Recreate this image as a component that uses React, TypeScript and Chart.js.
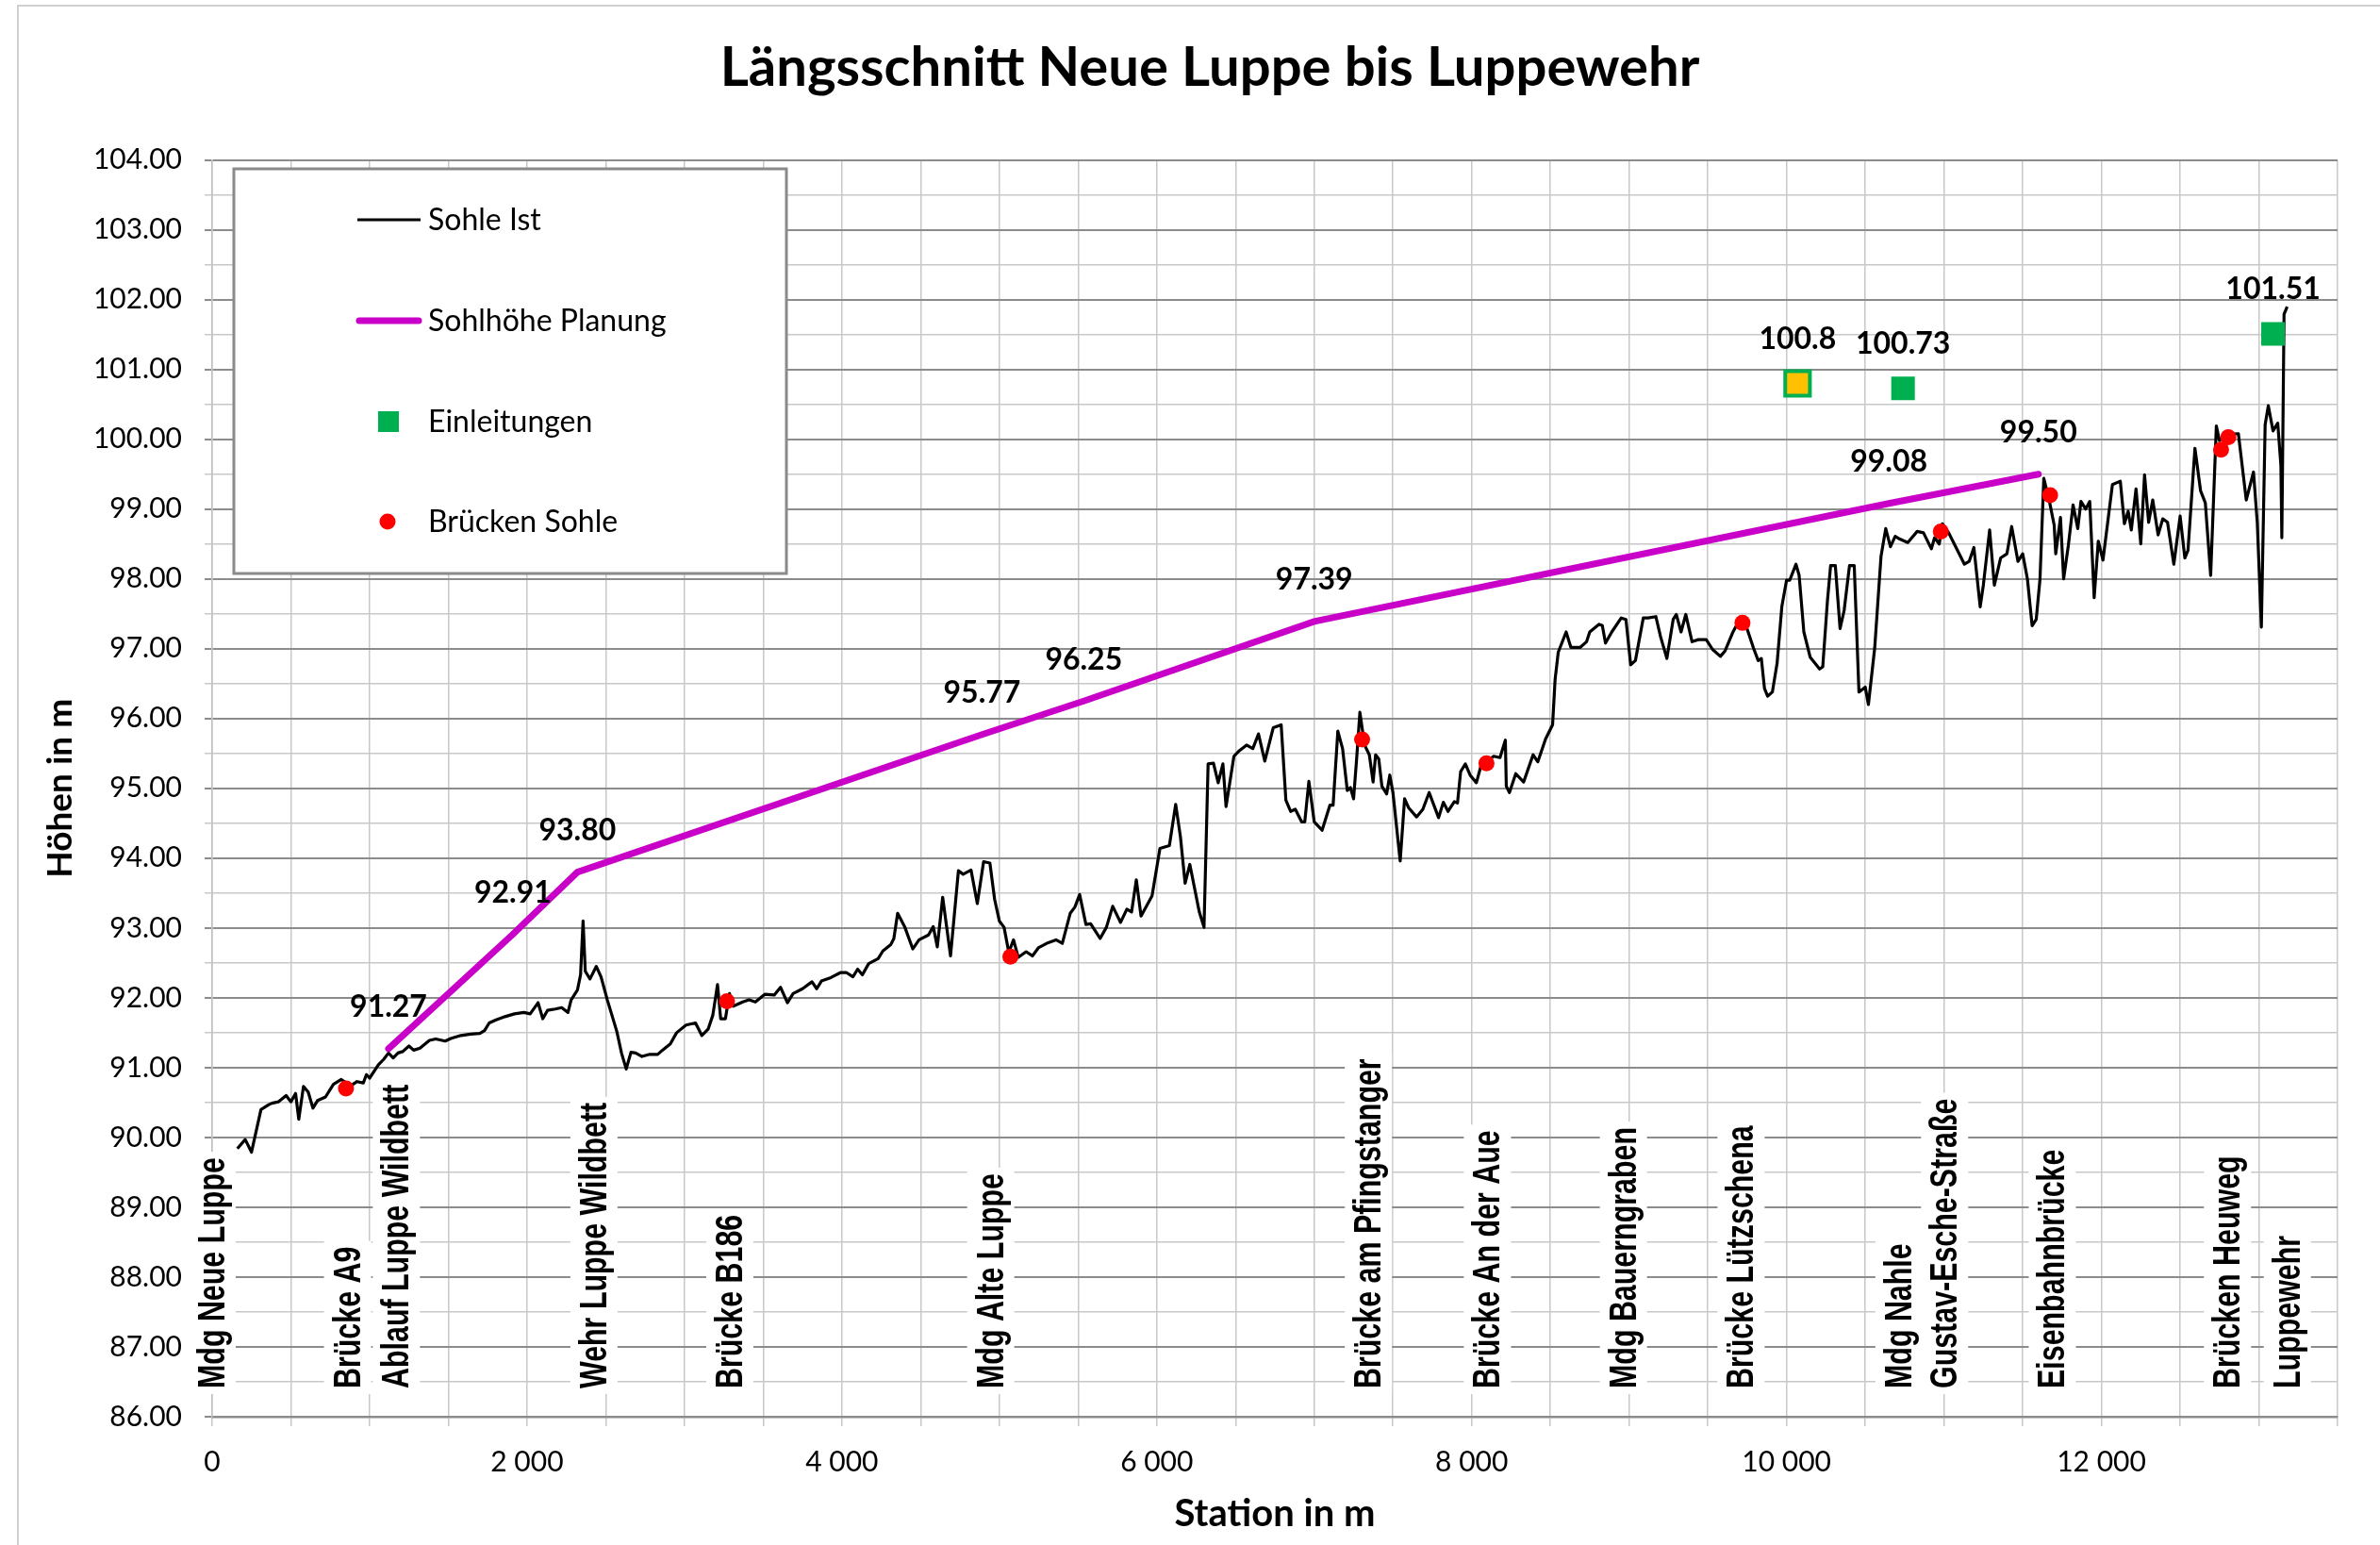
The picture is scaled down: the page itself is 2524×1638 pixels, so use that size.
import React, { useEffect, useRef } from 'react';
import { Chart, registerables } from 'chart.js';

Chart.register(...registerables);

const chartTitle = 'Längsschnitt Neue Luppe bis Luppewehr';
const xAxisTitle = 'Station in m';
const yAxisTitle = 'Höhen in m';
const seriesNames = ['Sohle Ist', 'Sohlhöhe Planung', 'Einleitungen', 'Brücken Sohle'];

const xTickLabels = ['0', '2 000', '4 000', '6 000', '8 000', '10 000', '12 000'];
const yTickLabels = ['86.00', '87.00', '88.00', '89.00', '90.00', '91.00', '92.00', '93.00', '94.00', '95.00',
  '96.00', '97.00', '98.00', '99.00', '100.00', '101.00', '102.00', '103.00', '104.00'];

const sohleStations = [
  160, 210, 250, 310, 360, 380, 420, 470, 500, 530, 550, 580, 610, 640, 670, 720, 770, 820, 880, 920, 960, 980, 1000,
  1056, 1090, 1120, 1150, 1180, 1210, 1250, 1280, 1320, 1380, 1420, 1480, 1520, 1580, 1640, 1700, 1730, 1760, 1800,
  1860, 1920, 1980, 2020, 2070, 2100, 2130, 2180, 2220, 2260, 2280, 2320, 2340, 2356, 2370, 2400, 2440, 2470,
  2510, 2570, 2600, 2630, 2660, 2690, 2730, 2780, 2830, 2860, 2910, 2950, 3010, 3070, 3110, 3150, 3180, 3210, 3230,
  3260, 3286, 3310, 3370, 3410, 3450, 3510, 3570, 3610, 3654, 3690, 3750, 3810, 3840, 3870, 3930, 3990, 4030, 4070,
  4100, 4130, 4170, 4230, 4260, 4310, 4330, 4354, 4400, 4450, 4490, 4550, 4580, 4606, 4640, 4690, 4740, 4770, 4820,
  4860, 4900,
  4940, 4970, 5000, 5030, 5060, 5090, 5120, 5170, 5210, 5250, 5310, 5360, 5400, 5450, 5480, 5510, 5550, 5580, 5640,
  5680, 5720, 5770, 5810, 5840, 5870, 5900, 5970, 6020, 6080, 6120, 6150, 6180, 6210, 6270, 6300, 6326, 6360, 6390,
  6420, 6440, 6490, 6520, 6570, 6610, 6646, 6686, 6740, 6790, 6820, 6850, 6880, 6920, 6940, 6966, 7000, 7050, 7100,
  7120, 7150, 7180, 7210, 7230, 7250, 7270, 7290, 7320, 7350, 7374,
  7390, 7410, 7430, 7460, 7480, 7500, 7546, 7574, 7600, 7650, 7690, 7730, 7760, 7790, 7820, 7850, 7890, 7910, 7930,
  7960, 7990, 8030, 8060, 8100, 8140, 8180, 8214, 8220, 8240, 8280, 8330, 8390, 8420, 8470, 8514, 8530, 8550, 8600,
  8630, 8690, 8730, 8750, 8810, 8830, 8850, 8890, 8950, 8980, 9010, 9040, 9090, 9120, 9170, 9200, 9240, 9280, 9300,
  9330, 9360, 9400, 9440, 9490, 9530, 9580, 9610, 9660, 9700, 9750, 9790, 9820, 9840,
  9860, 9880, 9910, 9940, 9970, 10000, 10020, 10060, 10080, 10110, 10150, 10210, 10230, 10260, 10280, 10310, 10340,
  10366, 10400, 10430, 10460, 10500, 10520, 10560, 10600, 10630, 10660, 10690, 10720, 10770, 10830, 10870, 10920,
  10940, 10970, 10990, 11030, 11070, 11130, 11160, 11190, 11230, 11250, 11290, 11320, 11360, 11400, 11430, 11470,
  11500, 11530, 11560, 11586, 11610, 11634, 11670, 11700, 11710, 11740, 11760, 11790, 11820, 11850, 11870, 11900,
  11926, 11954, 11980, 12010, 12040, 12070, 12120, 12146, 12170, 12190, 12220, 12250, 12274, 12300, 12326,
  12360, 12390, 12420, 12460, 12500, 12530, 12550, 12594, 12630, 12660, 12694, 12730, 12750, 12790, 12870, 12920,
  12966, 12990, 13016, 13040, 13060, 13090, 13120, 13140, 13146, 13160, 13180,
];
const sohleHeights = [
  89.84, 89.97, 89.79, 90.40, 90.47, 90.49, 90.51, 90.60, 90.51, 90.63, 90.26, 90.73, 90.65, 90.42, 90.53, 90.58,
  90.76, 90.83, 90.74, 90.80, 90.78, 90.90, 90.85,
  91.04, 91.12, 91.21, 91.14, 91.21, 91.23, 91.31, 91.25, 91.28, 91.39, 91.41, 91.38, 91.42, 91.46, 91.48, 91.49,
  91.53, 91.64, 91.68, 91.73, 91.77, 91.79, 91.77, 91.93, 91.70, 91.82, 91.84, 91.86, 91.79, 91.97, 92.11, 92.33,
  93.10, 92.38, 92.27, 92.45, 92.30,
  91.97, 91.52, 91.21, 90.98, 91.22, 91.21, 91.16, 91.19, 91.19, 91.25, 91.34, 91.50, 91.61, 91.64, 91.46, 91.55,
  91.75, 92.19, 91.70, 91.70, 92.06, 91.88, 91.94, 91.97, 91.94, 92.05, 92.04, 92.15, 91.93, 92.06, 92.13, 92.23,
  92.13, 92.24, 92.29, 92.36, 92.36, 92.30, 92.41, 92.33, 92.49, 92.56, 92.67, 92.76, 92.85, 93.21, 93.01, 92.70,
  92.83, 92.90, 93.02, 92.73, 93.44, 92.60, 93.82, 93.77, 93.83, 93.35, 93.95,
  93.93, 93.41, 93.10, 93.01, 92.65, 92.83, 92.58, 92.66, 92.60, 92.72, 92.79, 92.83, 92.78, 93.21, 93.30, 93.48,
  93.05, 93.06, 92.85, 93.01, 93.31, 93.08, 93.27, 93.23, 93.69, 93.17, 93.46, 94.14, 94.18, 94.77, 94.31, 93.64,
  93.91, 93.23, 93.01, 95.35, 95.36, 95.08, 95.35, 94.74, 95.46, 95.53, 95.62, 95.57, 95.78, 95.39, 95.87, 95.91,
  94.83, 94.67, 94.70, 94.52, 94.52, 95.10, 94.52, 94.40, 94.76, 94.76, 95.82, 95.57, 94.97, 95.01, 94.85, 95.44,
  96.09, 95.62, 95.48, 95.09,
  95.48, 95.42, 95.03, 94.92, 95.19, 94.94, 93.96, 94.85, 94.72, 94.59, 94.70, 94.94, 94.76, 94.58, 94.80, 94.67,
  94.81, 94.79, 95.24, 95.35, 95.19, 95.08, 95.33, 95.39, 95.46, 95.44, 95.69, 95.03, 94.94, 95.21, 95.09, 95.48,
  95.38, 95.71, 95.91, 96.56, 96.95, 97.24, 97.02, 97.02, 97.10, 97.24, 97.35, 97.33, 97.08, 97.24, 97.44, 97.42,
  96.77, 96.83, 97.44, 97.44, 97.46, 97.17, 96.86, 97.42, 97.49, 97.24, 97.49, 97.10, 97.13, 97.13, 96.99, 96.89,
  96.97, 97.24, 97.41, 97.28, 97.01, 96.83, 96.86,
  96.43, 96.32, 96.38, 96.79, 97.60, 97.98, 97.98, 98.21, 98.05, 97.24, 96.88, 96.71, 96.74, 97.69, 98.19, 98.19,
  97.29, 97.55, 98.19, 98.19, 96.38, 96.45, 96.20, 97.01, 98.32, 98.72, 98.46, 98.61, 98.57, 98.52, 98.68, 98.66,
  98.43, 98.59, 98.50, 98.79, 98.66, 98.48, 98.21, 98.25, 98.45, 97.60, 97.91, 98.70, 97.91, 98.30, 98.36, 98.75,
  98.25, 98.36, 98.00, 97.33, 97.42, 98.00, 99.44, 99.11, 98.77, 98.36, 98.88, 98.00, 98.48, 99.06, 98.72, 99.11,
  99.00, 99.11, 97.73, 98.54, 98.27, 98.81, 99.35, 99.40, 98.79, 98.97, 98.70, 99.29, 98.50, 99.49, 98.81, 99.13,
  98.63, 98.86, 98.81, 98.21, 98.90, 98.30, 98.41, 99.87, 99.26, 99.09, 98.05, 100.19, 99.98, 100.07, 100.08,
  99.13, 99.53, 98.81, 97.31, 100.21, 100.48, 100.12, 100.23, 99.63, 98.59, 101.79, 101.90,
];

const planStations = [1120, 1910, 2320, 4890, 5536, 7000, 10650, 11600];
const planHeights = [91.27, 92.91, 93.80, 95.77, 96.25, 97.39, 99.08, 99.50];
const planLabels = ['91.27', '92.91', '93.80', '95.77', '96.25', '97.39', '99.08', '99.50'];

const einStations = [10070, 10740, 13090];
const einHeights = [100.8, 100.73, 101.51];
const einLabels = ['100.8', '100.73', '101.51'];

const brueckeStations = [850, 3270, 5070, 7304, 8094, 9720, 10980, 11674, 12760, 12806];
const brueckeHeights = [90.70, 91.95, 92.59, 95.70, 95.36, 97.37, 98.68, 99.20, 99.85, 100.03];

const placeNames = ['Mdg Neue Luppe', 'Brücke A9', 'Ablauf Luppe Wildbett', 'Wehr Luppe Wildbett', 'Brücke B186',
  'Mdg Alte Luppe', 'Brücke am Pfingstanger', 'Brücke An der Aue', 'Mdg Bauerngraben', 'Brücke Lützschena',
  'Mdg Nahle', 'Gustav-Esche-Straße', 'Eisenbahnbrücke', 'Brücken Heuweg', 'Luppewehr'];
const placeStations = [0, 860, 1170, 2425, 3288, 4945, 7344, 8100, 8964, 9711, 10714, 11004, 11688, 12801, 13181];

const BLACK = '#000000';
const MAGENTA = '#C800C8';
const GREEN = '#00B050';
const YELLOW = '#FFC000';
const RED = '#FF0000';

const isInt = (v: number) => Math.abs(v - Math.round(v)) < 1e-6;

const framePlugin = {
  id: 'frame',
  beforeDraw(chart: any) {
    const { ctx, width, height } = chart;
    ctx.save();
    ctx.fillStyle = '#ffffff';
    ctx.fillRect(0, 0, width, height);
    ctx.strokeStyle = '#d0d0d0';
    ctx.lineWidth = 2;
    ctx.beginPath();
    ctx.moveTo(19, height);
    ctx.lineTo(19, 6);
    ctx.lineTo(width, 6);
    ctx.stroke();
    ctx.restore();
  },
};

const placeLabelPlugin = {
  id: 'placeLabels',
  beforeDatasetsDraw(chart: any) {
    const { ctx } = chart;
    const xs = chart.scales.x;
    const baseY = 1472;
    const squeeze = 0.76;
    ctx.save();
    ctx.font = 'bold 40px "Liberation Sans", Arial, sans-serif';
    ctx.textAlign = 'left';
    ctx.textBaseline = 'middle';
    placeNames.forEach((name, i) => {
      const x = xs.getPixelForValue(placeStations[i]);
      const len = ctx.measureText(name).width * squeeze;
      ctx.save();
      ctx.translate(x, baseY);
      ctx.rotate(-Math.PI / 2);
      ctx.fillStyle = '#ffffff';
      ctx.fillRect(-6, -25, len + 12, 50);
      ctx.scale(squeeze, 1);
      ctx.fillStyle = '#000000';
      ctx.fillText(name, 0, 2);
      ctx.restore();
    });
    ctx.restore();
  },
};

const valueLabelPlugin = {
  id: 'valueLabels',
  afterDatasetsDraw(chart: any) {
    const { ctx } = chart;
    ctx.save();
    ctx.font = 'bold 32px Lato, sans-serif';
    ctx.fillStyle = '#000000';
    ctx.textAlign = 'center';
    ctx.textBaseline = 'middle';
    const sets: [number, string[], number][] = [[1, planLabels, 44], [2, einLabels, 47]];
    sets.forEach(([di, labels, off]) => {
      const meta = chart.getDatasetMeta(di);
      meta.data.forEach((el: any, i: number) => {
        ctx.fillText(labels[i], el.x, el.y - off);
      });
    });
    ctx.restore();
  },
};

const legendPlugin = {
  id: 'boxLegend',
  afterDatasetsDraw(chart: any) {
    const { ctx } = chart;
    const box = { l: 248, t: 179, r: 834, b: 608 };
    const rows = [233, 340, 447, 553];
    ctx.save();
    ctx.fillStyle = '#ffffff';
    ctx.fillRect(box.l, box.t, box.r - box.l, box.b - box.t);
    ctx.strokeStyle = '#8a8a8a';
    ctx.lineWidth = 3;
    ctx.strokeRect(box.l, box.t, box.r - box.l, box.b - box.t);
    ctx.strokeStyle = BLACK;
    ctx.lineWidth = 3;
    ctx.beginPath();
    ctx.moveTo(379, rows[0]);
    ctx.lineTo(446, rows[0]);
    ctx.stroke();
    ctx.strokeStyle = MAGENTA;
    ctx.lineWidth = 7;
    ctx.lineCap = 'round';
    ctx.beginPath();
    ctx.moveTo(381, rows[1]);
    ctx.lineTo(444, rows[1]);
    ctx.stroke();
    ctx.fillStyle = GREEN;
    ctx.fillRect(401, rows[2] - 11, 22, 22);
    ctx.fillStyle = RED;
    ctx.beginPath();
    ctx.arc(411, rows[3], 8.5, 0, Math.PI * 2);
    ctx.fill();
    ctx.fillStyle = '#000000';
    ctx.font = '32px Lato, sans-serif';
    ctx.textAlign = 'left';
    ctx.textBaseline = 'middle';
    seriesNames.forEach((n, i) => ctx.fillText(n, 454, rows[i] + 1));
    ctx.restore();
  },
};

export default function App() {
  const canvasRef = useRef<HTMLCanvasElement | null>(null);

  useEffect(() => {
    document.body.style.margin = '0';
    const canvas = canvasRef.current;
    if (!canvas) return;
    const chart = new Chart(canvas, {
      type: 'scatter',
      data: {
        datasets: [
          {
            label: seriesNames[0],
            data: sohleStations.map((x, i) => ({ x, y: sohleHeights[i] })),
            showLine: true,
            borderColor: BLACK,
            borderWidth: 3.2,
            borderJoinStyle: 'round',
            pointRadius: 0,
            tension: 0,
            order: 4,
          },
          {
            label: seriesNames[1],
            data: planStations.map((x, i) => ({ x, y: planHeights[i] })),
            showLine: true,
            borderColor: MAGENTA,
            borderWidth: 7,
            borderCapStyle: 'round',
            pointRadius: 0,
            tension: 0,
            order: 3,
          },
          {
            label: seriesNames[2],
            data: einStations.map((x, i) => ({ x, y: einHeights[i] })),
            pointStyle: 'rect',
            pointRadius: [18.5, 17.7, 17.7],
            pointBackgroundColor: [YELLOW, GREEN, GREEN],
            pointBorderColor: GREEN,
            pointBorderWidth: [4, 0, 0],
            order: 2,
          },
          {
            label: seriesNames[3],
            data: brueckeStations.map((x, i) => ({ x, y: brueckeHeights[i] })),
            pointStyle: 'circle',
            pointRadius: 8.5,
            pointBackgroundColor: RED,
            pointBorderWidth: 0,
            order: 1,
          },
        ],
      } as any,
      options: {
        responsive: false,
        devicePixelRatio: 1,
        animation: false,
        events: [],
        layout: { padding: { left: 42, right: 0, top: 0, bottom: 0 } },
        plugins: {
          legend: { display: false },
          tooltip: { enabled: false },
          title: {
            display: true,
            text: chartTitle,
            color: '#000000',
            font: { family: 'Lato', size: 58, weight: 'bold' },
            padding: { top: 37, bottom: 63 },
          },
        },
        scales: {
          x: {
            type: 'linear',
            position: 'bottom',
            min: 0,
            max: 13500,
            afterFit: (s: any) => { s.height = 136; },
            ticks: {
              stepSize: 500,
              maxTicksLimit: 100,
              autoSkip: false,
              maxRotation: 0,
              minRotation: 0,
              padding: 20,
              color: '#000000',
              font: { family: 'Lato', size: 30 },
              callback: (v: any) => {
                const n = Number(v);
                return n % 2000 === 0 ? xTickLabels[n / 2000] : '';
              },
            },
            grid: { color: '#c8c8c8', lineWidth: 1.5, tickLength: 10, tickColor: '#c8c8c8' },
            border: { display: true, color: '#8c8c8c', width: 2.5 },
            title: {
              display: true,
              text: xAxisTitle,
              color: '#000000',
              font: { family: 'Lato', size: 40, weight: 'bold' },
              padding: { top: 0, bottom: 9 },
            },
          },
          y: {
            type: 'linear',
            position: 'left',
            min: 86,
            max: 104,
            afterFit: (s: any) => { s.width = 183; },
            ticks: {
              stepSize: 0.5,
              maxTicksLimit: 100,
              autoSkip: false,
              padding: 24,
              color: '#000000',
              font: { family: 'Lato', size: 30 },
              callback: (v: any) => {
                const n = Number(v);
                return isInt(n) ? yTickLabels[Math.round(n) - 86] : '';
              },
            },
            grid: {
              color: (c: any) => (c.tick && isInt(c.tick.value) ? '#8c8c8c' : '#c8c8c8'),
              lineWidth: (c: any) => (c.tick && isInt(c.tick.value) ? 2 : 1.5),
              tickLength: 8,
            },
            border: { display: true, color: '#c0c0c0', width: 1.5 },
            title: {
              display: true,
              text: yAxisTitle,
              color: '#000000',
              font: { family: 'Lato', size: 37, weight: 'bold' },
              padding: { top: 0, bottom: 0 },
            },
          },
          y2: {
            type: 'linear',
            position: 'right',
            min: 86,
            max: 104,
            afterFit: (s: any) => { s.width = 45; },
            ticks: { display: false },
            grid: { display: false, drawOnChartArea: false, drawTicks: false },
            border: { display: false },
          },
        },
      } as any,
      plugins: [framePlugin, placeLabelPlugin, valueLabelPlugin, legendPlugin],
    });
    return () => chart.destroy();
  }, []);

  return (
    <div style={{ position: 'absolute', left: 0, top: 0, width: 2524, height: 1638, overflow: 'hidden' }}>
      <canvas ref={canvasRef} width={2524} height={1638} style={{ display: 'block' }} />
    </div>
  );
}
